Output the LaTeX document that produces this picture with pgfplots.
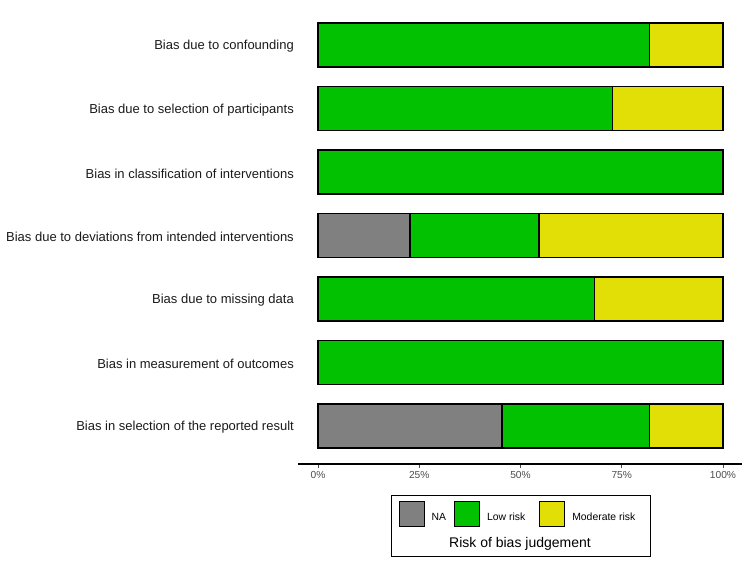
\documentclass[border=0pt]{standalone}
\usepackage{pgfplots}
\pgfplotsset{compat=1.18}
\usepackage{fontspec}
\setmainfont{Liberation Sans}
\definecolor{naGray}{HTML}{808080}
\definecolor{lowGreen}{HTML}{02C100}
\definecolor{modYellow}{HTML}{E2DF07}
\definecolor{labText}{HTML}{1A1A1A}
\definecolor{tickText}{HTML}{4D4D4D}
\begin{document}
\begin{tikzpicture}[x=1pt,y=1pt]
\useasboundingbox (0,0) rectangle (750,563);
\begin{axis}[
  at={(298pt,99pt)}, anchor=south west,
  scale only axis, width=444pt, height=457pt,
  xbar stacked, bar width=44pt,
  xmin=-4.938, xmax=104.69, ymin=-0.6, ymax=6.6, y dir=reverse,
  enlargelimits=false,
  axis x line*=bottom, axis y line*=left,
  x axis line style={-, line width=1.2pt},
  y axis line style={draw=none},
  ytick={0,1,2,3,4,5,6},
  yticklabels={Bias due to confounding,
    Bias due to selection of participants,
    Bias in classification of interventions,
    Bias due to deviations from intended interventions,
    Bias due to missing data,
    Bias in measurement of outcomes,
    Bias in selection of the reported result},
  ytick style={draw=none},
  yticklabel style={font=\fontsize{13}{15}\selectfont, text=labText, anchor=east, inner sep=0pt, yshift=-1.5pt},
  xtick={0,25,50,75,100},
  xticklabels={0\%,25\%,50\%,75\%,100\%},
  xticklabel style={font=\fontsize{10.2}{12}\selectfont, text=tickText},
  tick align=outside, major tick length=4pt,
  xtick style={tickText, line width=0.8pt},
  legend columns=3,
  legend cell align=left,
  legend image code/.code={\draw[#1, draw=black, line width=1pt] (0pt,-9pt) rectangle (25pt,16pt);},
  legend style={at={(0.4955,-0.1094)}, anchor=center, draw=none, fill=none,
    font=\fontsize{10.4}{12}\selectfont,
    /tikz/every odd column/.append style={column sep=5pt},
    /tikz/every even column/.append style={column sep=6pt}},
]
\addplot+[fill=naGray, draw=black, line width=1.2pt] coordinates {
  (0,0) (0,1) (0,2) (22.73,3) (0,4) (0,5) (45.45,6)};
\addplot+[fill=lowGreen, draw=black, line width=1.2pt] coordinates {
  (81.82,0) (72.73,1) (100,2) (31.82,3) (68.18,4) (100,5) (36.36,6)};
\addplot+[fill=modYellow, draw=black, line width=1.2pt] coordinates {
  (18.18,0) (27.27,1) (0,2) (45.45,3) (31.82,4) (0,5) (18.18,6)};
\legend{NA, Low risk\rule{6pt}{0pt}, Moderate risk}
\end{axis}
\draw[line width=0.8pt] (391,7) rectangle (650,68);
\node at (520,19) {\fontsize{14}{16}\selectfont Risk of bias judgement};
\end{tikzpicture}
\end{document}
